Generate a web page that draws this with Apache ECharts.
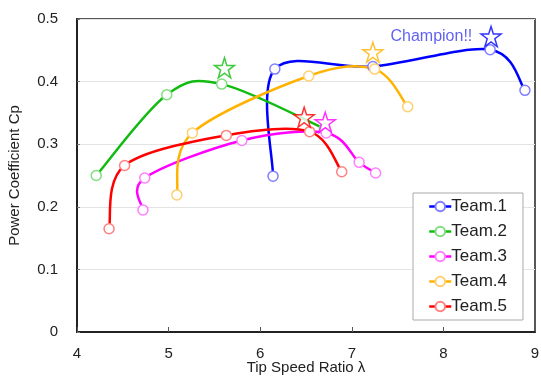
<!DOCTYPE html>
<html>
<head>
<meta charset="utf-8">
<style>
  html, body { margin: 0; padding: 0; background: #fff; }
  #chart { width: 541px; height: 378px; }
</style>
<script src="https://cdn.jsdelivr.net/npm/echarts@6/dist/echarts.min.js"></script>
</head>
<body>
<div id="chart"></div>
<script>
  // [tip speed ratio, power coefficient]
  var team1 = [[6.14, 0.249], [6.16, 0.42], [7.23, 0.424], [8.51, 0.451], [8.89, 0.386]]
  var team2 = [[4.21, 0.25], [4.98, 0.379], [5.58, 0.396], [6.70, 0.325]]
  var team3 = [[4.72, 0.195], [4.74, 0.246], [5.80, 0.306], [6.72, 0.318], [7.08, 0.271], [7.26, 0.254]]
  var team4 = [[5.09, 0.219], [5.26, 0.318], [6.53, 0.409], [7.25, 0.42], [7.61, 0.36]]
  var team5 = [[4.35, 0.165], [4.52, 0.266], [5.63, 0.314], [6.54, 0.32], [6.89, 0.256]]
  // best point of each team (stars)
  var bestPoints = [[8.52, 0.472], [5.61, 0.422], [6.71, 0.335], [7.23, 0.447], [6.48, 0.343]]
  var teamNames = ['Team.1', 'Team.2', 'Team.3', 'Team.4', 'Team.5']
  var championLabel = 'Champion!!'

  var lineColors = ['#0000ff', '#11bb11', '#ff00ff', '#ffb300', '#ff0000']
  var markColors = ['#8080ff', '#80dd80', '#ff80ff', '#ffd070', '#ff8080']
  var starPath = 'path://M50,2 L61,36 L97,36 L68,57 L79,92 L50,71 L21,92 L32,57 L3,36 L39,36 Z'
  var font = 'Liberation Sans, Arial, sans-serif'

  // smooth curve through the points in pixel space (catmull-rom style, like the spreadsheet did)
  function curveRenderer (points, color) {
    return function (params, api) {
      var p = points.map(function (d) { return api.coord(d) })
      var path = 'M' + p[0][0] + ',' + p[0][1]
      for (let i = 0; i < p.length - 1; i++) {
        var p0 = p[i - 1] || p[i]
        var p1 = p[i]
        var p2 = p[i + 1]
        var p3 = p[i + 2] || p[i + 1]
        var c1x = p1[0] + (p2[0] - p0[0]) / 6
        var c1y = p1[1] + (p2[1] - p0[1]) / 6
        var c2x = p2[0] - (p3[0] - p1[0]) / 6
        var c2y = p2[1] - (p3[1] - p1[1]) / 6
        path += ' C' + c1x + ',' + c1y + ' ' + c2x + ',' + c2y + ' ' + p2[0] + ',' + p2[1]
      }
      return {
        type: 'path',
        shape: { pathData: path },
        style: { fill: 'none', stroke: color, lineWidth: 2.5 }
      }
    }
  }

  var teams = [team1, team2, team3, team4, team5]
  var series = []
  for (let i = 0; i < teams.length; i++) {
    series.push({
      type: 'custom',
      data: [teams[i][0]],
      renderItem: curveRenderer(teams[i], lineColors[i]),
      silent: true,
      z: 2
    })
    series.push({
      name: teamNames[i],
      type: 'line',
      data: teams[i],
      symbol: 'circle',
      symbolSize: 10,
      lineStyle: { color: lineColors[i], width: 2.5, opacity: 0 },
      itemStyle: { color: '#fff', borderColor: markColors[i], borderWidth: 1.5 },
      z: 3
    })
  }
  for (let i = 0; i < bestPoints.length; i++) {
    series.push({
      type: 'scatter',
      data: [bestPoints[i]],
      symbol: starPath,
      symbolSize: 20,
      itemStyle: { color: '#fff', borderColor: lineColors[i], borderWidth: 1.5 },
      label: i === 0 ? {
        show: true,
        position: 'left',
        distance: 8,
        formatter: championLabel,
        color: '#3a3aee',
        fontSize: 16,
        fontFamily: font
      } : { show: false },
      z: 4
    })
  }

  var chart = echarts.init(document.getElementById('chart'))
  chart.setOption({
    animation: false,
    grid: {
      left: 77,
      right: 6,
      top: 19,
      bottom: 46,
      containLabel: false,
      outerBoundsMode: 'none',
      show: true,
      borderColor: '#222',
      borderWidth: 1.5
    },
    legend: {
      data: teamNames,
      orient: 'vertical',
      left: 413,
      top: 193,
      padding: [5, 16, 5, 15],
      itemGap: 8,
      itemWidth: 22,
      itemHeight: 12,
      backgroundColor: '#fff',
      borderColor: '#aaa',
      borderWidth: 1,
      borderRadius: 0,
      lineStyle: { opacity: 1, width: 2.5 },
      textStyle: { fontSize: 17, color: '#222', fontFamily: font, padding: [0, 0, 0, -5] }
    },
    xAxis: {
      type: 'value',
      min: 4,
      max: 9,
      interval: 1,
      name: 'Tip Speed Ratio λ',
      nameLocation: 'middle',
      nameGap: 28,
      nameMoveOverlap: false,
      nameTextStyle: { fontSize: 15, color: '#222', fontFamily: font },
      axisLine: { lineStyle: { color: '#222', width: 2 } },
      axisTick: { inside: true, length: 5, lineStyle: { color: '#555' } },
      axisLabel: { fontSize: 15, color: '#222', margin: 14, fontFamily: font },
      splitLine: { show: false }
    },
    yAxis: {
      type: 'value',
      min: 0,
      max: 0.5,
      interval: 0.1,
      name: 'Power Coefficient Cp',
      nameLocation: 'middle',
      nameGap: 55,
      nameMoveOverlap: false,
      nameTextStyle: { fontSize: 15, color: '#222', fontFamily: font },
      axisLine: { show: true, lineStyle: { color: '#222', width: 2 } },
      axisTick: { show: true, inside: true, length: 3, lineStyle: { color: '#777' } },
      axisLabel: { fontSize: 15, color: '#222', margin: 19, fontFamily: font },
      splitLine: { show: true, lineStyle: { color: '#e4e4e4', width: 1 } }
    },
    series: series
  })
</script>
</body>
</html>
